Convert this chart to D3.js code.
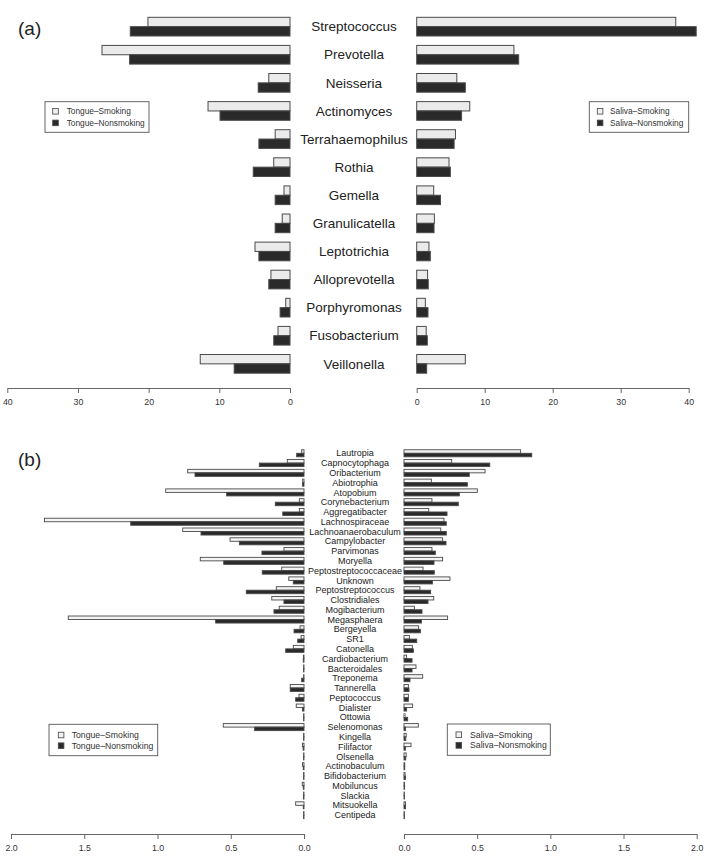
<!DOCTYPE html>
<html><head><meta charset="utf-8">
<script src="https://cdn.jsdelivr.net/npm/d3@7"></script>
<style>body{margin:0;background:#fff}svg{display:block;font-family:"Liberation Sans",Arial,Helvetica,sans-serif}</style>
</head><body>
<svg id="chart" width="709" height="858"></svg>
<script>
// ---------- Panel (a) data ----------
const catsA = ["Streptococcus","Prevotella","Neisseria","Actinomyces","Terrahaemophilus","Rothia","Gemella","Granulicatella","Leptotrichia","Alloprevotella","Porphyromonas","Fusobacterium","Veillonella"];
const tongueSmokingA    = [20.1, 26.6, 3.0, 11.6, 2.1, 2.3, 0.85, 1.1, 4.95, 2.7, 0.6, 1.7, 12.7];
const tongueNonsmokingA = [22.6, 22.7, 4.5, 9.9, 4.4, 5.2, 2.1, 2.1, 4.4, 3.0, 1.4, 2.3, 7.9];
const salivaSmokingA    = [38.1, 14.3, 5.9, 7.8, 5.7, 4.75, 2.5, 2.6, 1.8, 1.6, 1.27, 1.4, 7.15];
const salivaNonsmokingA = [41.1, 15.0, 7.15, 6.6, 5.5, 4.95, 3.5, 2.55, 2.0, 1.7, 1.66, 1.56, 1.47];
const ticksA = [0, 10, 20, 30, 40];

// ---------- Panel (b) data ----------
const catsB = ["Lautropia","Capnocytophaga","Oribacterium","Abiotrophia","Atopobium","Corynebacterium","Aggregatibacter","Lachnospiraceae","Lachnoanaerobaculum","Campylobacter","Parvimonas","Moryella","Peptostreptococcaceae","Unknown","Peptostreptococcus","Clostridiales","Mogibacterium","Megasphaera","Bergeyella","SR1","Catonella","Cardiobacterium","Bacteroidales","Treponema","Tannerella","Peptococcus","Dialister","Ottowia","Selenomonas","Kingella","Filifactor","Olsenella","Actinobaculum","Bifidobacterium","Mobiluncus","Slackia","Mitsuokella","Centipeda"];
const tongueSmokingB    = [0.016,0.114,0.794,0.009,0.944,0.032,0.032,1.772,0.828,0.505,0.137,0.708,0.152,0.104,0.189,0.22,0.169,1.609,0.027,0.02,0.073,0.004,0.003,0.003,0.094,0.034,0.053,0.003,0.551,0.003,0.01,0.003,0.01,0.003,0.012,0.003,0.057,0.003];
const tongueNonsmokingB = [0.05,0.305,0.744,0.01,0.528,0.196,0.145,1.183,0.703,0.441,0.287,0.548,0.285,0.073,0.394,0.137,0.205,0.603,0.068,0.043,0.125,0.005,0.003,0.016,0.094,0.057,0.01,0.003,0.337,0.003,0.006,0.003,0.005,0.003,0.005,0.004,0.005,0.003];
const salivaSmokingB    = [0.797,0.326,0.554,0.187,0.501,0.191,0.169,0.273,0.251,0.264,0.191,0.264,0.13,0.314,0.109,0.203,0.071,0.298,0.1,0.037,0.057,0.018,0.082,0.128,0.03,0.03,0.059,0.007,0.098,0.015,0.048,0.015,0.005,0.007,0.004,0.003,0.01,0.003];
const salivaNonsmokingB = [0.873,0.586,0.446,0.433,0.378,0.371,0.294,0.289,0.289,0.287,0.214,0.205,0.207,0.194,0.182,0.164,0.123,0.119,0.112,0.087,0.064,0.055,0.055,0.041,0.034,0.03,0.018,0.025,0.01,0.012,0.01,0.012,0.005,0.01,0.004,0.003,0.01,0.003];
const ticksB = [0, 0.5, 1.0, 1.5, 2.0];

const svg = d3.select("#chart");
const LIGHT = "#ebebeb", DARK = "#2a2a2a", EDGE = "#4a4a4a", AXIS = "#666";

function panel(cfg) {
  const g = svg.append("g");
  const y = d3.scaleBand().domain(cfg.cats).range(cfg.yRange).paddingInner(cfg.pad).paddingOuter(cfg.pad / 2);
  const sub = d3.scaleBand().domain([0, 1]).range([0, y.bandwidth()]);
  const xL = d3.scaleLinear().domain([0, cfg.max]).range(cfg.leftRange);
  const xR = d3.scaleLinear().domain([0, cfg.max]).range(cfg.rightRange);

  const series = [
    {vals: cfg.tS, x: xL, k: 0, fill: cfg.lightFill},
    {vals: cfg.tN, x: xL, k: 1, fill: DARK},
    {vals: cfg.sS, x: xR, k: 0, fill: cfg.lightFill},
    {vals: cfg.sN, x: xR, k: 1, fill: DARK}
  ];
  series.forEach(s => {
    g.append("g").selectAll("rect").data(cfg.cats).join("rect")
      .attr("x", (d, i) => Math.min(s.x(0), s.x(s.vals[i])))
      .attr("width", (d, i) => Math.abs(s.x(s.vals[i]) - s.x(0)))
      .attr("y", d => y(d) + sub(s.k))
      .attr("height", sub.bandwidth())
      .attr("fill", s.fill).attr("stroke", EDGE).attr("stroke-width", cfg.sw);
  });

  g.append("g").selectAll("text").data(cfg.cats).join("text")
    .attr("x", cfg.labelX).attr("y", d => y(d) + y.bandwidth() / 2)
    .attr("dy", "0.35em").attr("text-anchor", "middle")
    .attr("font-size", cfg.labelSize).attr("fill", "#222").text(d => d);

  [xL, xR].forEach(x => {
    const ax = g.append("g").attr("transform", `translate(0,${cfg.axisY})`)
      .call(d3.axisBottom(x).tickValues(cfg.ticks).tickSize(5).tickSizeOuter(0).tickPadding(6).tickFormat(cfg.fmt));
    ax.select(".domain").attr("stroke", AXIS);
    ax.selectAll(".tick line").attr("stroke", AXIS);
    ax.selectAll(".tick text").attr("fill", "#333").attr("font-size", 8.8).attr("font-family", "Liberation Sans, Arial, sans-serif");
  });

  svg.append("text").attr("x", cfg.tagX).attr("y", cfg.tagY).attr("font-size", 19).attr("fill", "#222").text(cfg.tag);

  cfg.legends.forEach(L => {
    const lg = svg.append("g");
    lg.append("rect").attr("x", L.x).attr("y", L.y).attr("width", L.w).attr("height", L.h)
      .attr("fill", "#fff").attr("stroke", "#555").attr("stroke-width", 0.9);
    L.items.forEach((t, i) => {
      const cy = L.y + L.row0 + i * L.rowStep;
      lg.append("rect").attr("x", L.sq).attr("y", cy - 2.8).attr("width", 5.6).attr("height", 5.6)
        .attr("fill", i === 0 ? "#f0f0f0" : DARK).attr("stroke", "#444").attr("stroke-width", 0.8);
      lg.append("text").attr("x", L.tx).attr("y", cy).attr("dy", "0.35em")
        .attr("font-size", L.fs).attr("fill", "#333").text(t);
    });
  });
}

panel({
  cats: catsA, tS: tongueSmokingA, tN: tongueNonsmokingA, sS: salivaSmokingA, sN: salivaNonsmokingA,
  yRange: [12.6, 377.9], pad: 0.335, max: 40, leftRange: [290, 7.3], rightRange: [416.7, 688.7],
  lightFill: LIGHT, sw: 1, labelX: 354, labelSize: 13.5, axisY: 388, ticks: ticksA, fmt: d3.format("d"),
  tag: "(a)", tagX: 18, tagY: 35,
  legends: [
    {x: 45, y: 101.7, w: 104, h: 30.6, row0: 9.6, rowStep: 11.6, sq: 52.7, tx: 66.7, fs: 8.3, items: ["Tongue\u2013Smoking", "Tongue\u2013Nonsmoking"]},
    {x: 589.3, y: 101.7, w: 99.4, h: 30.6, row0: 9.6, rowStep: 11.6, sq: 597.3, tx: 610, fs: 8.3, items: ["Saliva\u2013Smoking", "Saliva\u2013Nonsmoking"]}
  ]
});

panel({
  cats: catsB, tS: tongueSmokingB, tN: tongueNonsmokingB, sS: salivaSmokingB, sN: salivaNonsmokingB,
  yRange: [448.4, 820.0], pad: 0.28, max: 2, leftRange: [304, 11], rightRange: [404, 696.7],
  lightFill: "#f4f4f4", sw: 0.9, labelX: 355, labelSize: 9, axisY: 834, ticks: ticksB, fmt: d3.format(".1f"),
  tag: "(b)", tagX: 18, tagY: 466,
  legends: [
    {x: 49, y: 724.3, w: 108.7, h: 31.4, row0: 10.7, rowStep: 10.7, sq: 58.3, tx: 71.7, fs: 8.7, items: ["Tongue\u2013Smoking", "Tongue\u2013Nonsmoking"]},
    {x: 447.3, y: 724, w: 103, h: 31.3, row0: 10.7, rowStep: 10.7, sq: 456, tx: 470, fs: 8.7, items: ["Saliva\u2013Smoking", "Saliva\u2013Nonsmoking"]}
  ]
});
</script>
</body></html>
